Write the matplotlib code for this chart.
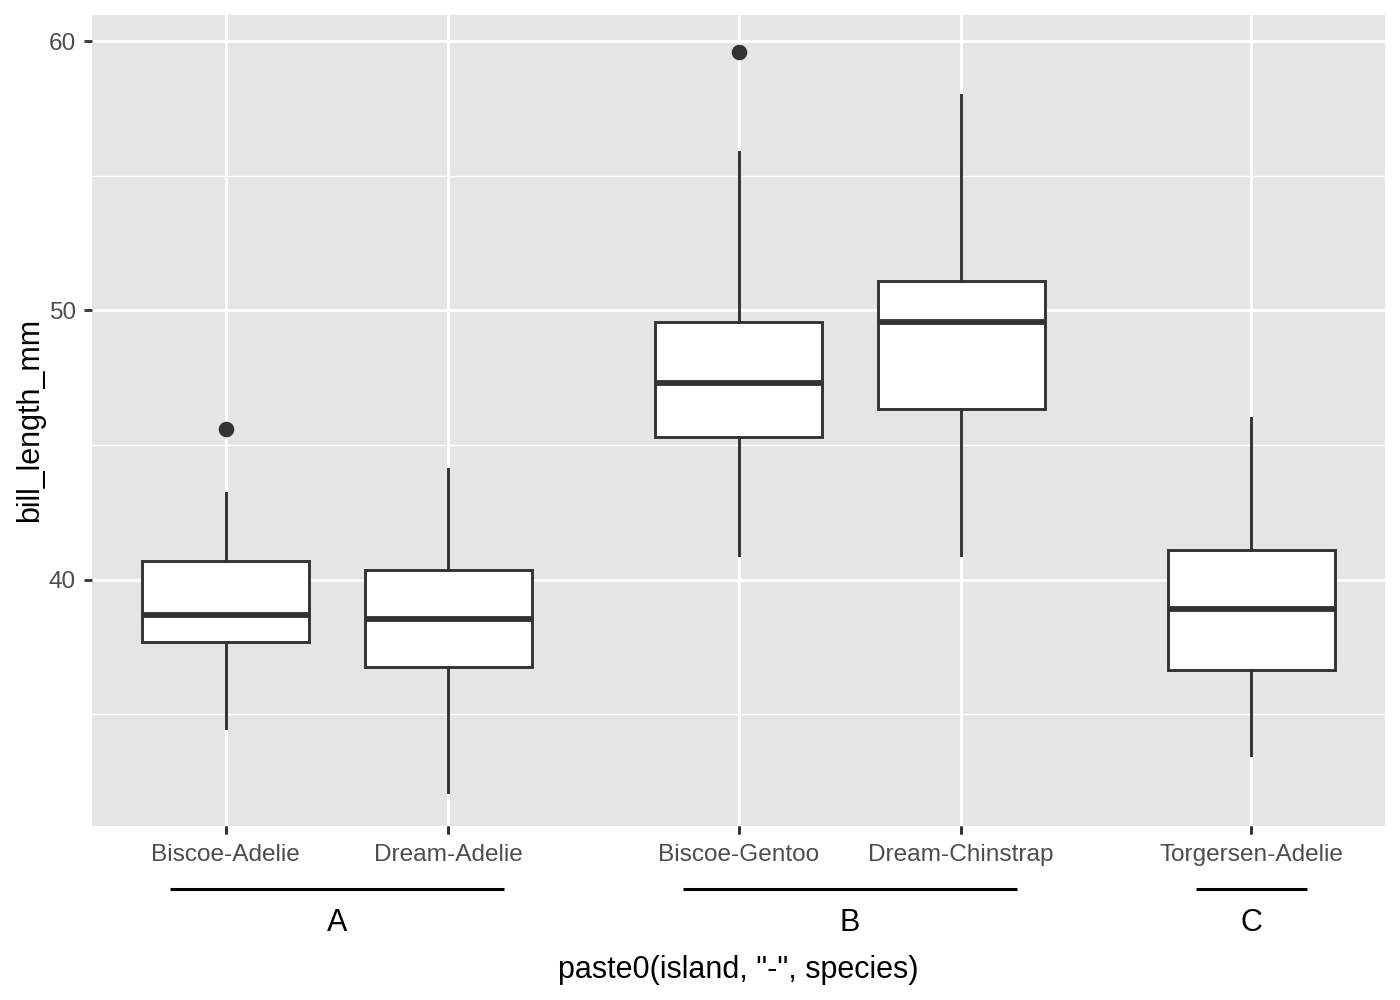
import matplotlib
matplotlib.use("Agg")
import matplotlib.pyplot as plt
import matplotlib.transforms as mtransforms

plt.rcParams["font.family"] = ["Liberation Sans", "DejaVu Sans"]

# ---- data ----
categories = ["Biscoe-Adelie", "Dream-Adelie", "Biscoe-Gentoo",
              "Dream-Chinstrap", "Torgersen-Adelie"]
groups = ["A", "A", "B", "B", "C"]
whislo = [34.5, 32.1, 40.9, 40.9, 33.5]
q1 = [37.7, 36.75, 45.3, 46.35, 36.65]
med = [38.7, 38.55, 47.3, 49.55, 38.9]
q3 = [40.7, 40.375, 49.55, 51.075, 41.1]
whishi = [43.2, 44.1, 55.9, 58.0, 46.0]
fliers = [[45.6], [], [59.6], [], []]

# layout: extra gap between nested groups
group_gap = 0.305
positions = []
x = 0.0
for i, g in enumerate(groups):
    if i > 0:
        x += 1.0 + (group_gap if g != groups[i - 1] else 0.0)
    positions.append(x)

stats = [
    dict(label=c, whislo=a, q1=b, med=m, q3=d, whishi=e, fliers=f)
    for c, a, b, m, d, e, f in zip(categories, whislo, q1, med, q3, whishi, fliers)
]

fig = plt.figure(figsize=(7, 5), dpi=200)
ax = fig.add_axes([92 / 1400, 1 - 826 / 1000, (1385 - 92) / 1400, (826 - 15) / 1000])
ax.set_facecolor("#E5E5E5")
for s in ax.spines.values():
    s.set_visible(False)

# grid
ax.set_yticks([40, 50, 60])
ax.set_yticks([35, 45, 55], minor=True)
ax.set_xticks(positions)
ax.set_xticklabels(categories)
ax.grid(True, which="major", color="white", linewidth=1.0)
ax.grid(True, which="minor", axis="y", color="white", linewidth=0.5)
ax.set_axisbelow(True)

line_col = "#333333"
ax.bxp(
    stats, positions=positions, widths=0.75, patch_artist=True,
    showcaps=False,
    boxprops=dict(facecolor="white", edgecolor=line_col, linewidth=1.05),
    whiskerprops=dict(color=line_col, linewidth=1.05),
    medianprops=dict(color=line_col, linewidth=2.1, solid_capstyle="butt"),
    flierprops=dict(marker="o", markerfacecolor=line_col, markeredgecolor=line_col,
                    markersize=4.6, linestyle="none"),
)

ax.set_xlim(positions[0] - 0.6, positions[-1] + 0.6)
ax.set_ylim(30.85, 60.97)

ax.tick_params(axis="both", which="major", length=2.75, width=1.0, color=line_col,
               labelsize=8.8, labelcolor="#4D4D4D", pad=3)
ax.tick_params(axis="x", which="major", pad=3.8)
ax.tick_params(axis="y", which="minor", length=0)

# nested group lines and labels
trans = mtransforms.blended_transform_factory(ax.transData, fig.transFigure)
for g in dict.fromkeys(groups):
    xs = [p for p, gg in zip(positions, groups) if gg == g]
    ax.plot([xs[0] - 0.25, xs[-1] + 0.25], [1 - 889 / 1000] * 2, transform=trans,
            color="black", linewidth=1.1, clip_on=False, solid_capstyle="butt")
    ax.text((xs[0] + xs[-1]) / 2, 1 - 923 / 1000, g, transform=trans,
            ha="center", va="center", fontsize=11, color="black")

fig.text((92 + 1385) / 2 / 1400, 1 - 970 / 1000, 'paste0(island, "-", species)',
         ha="center", va="center", fontsize=11, color="black")
fig.text(30 / 1400, 1 - 420 / 1000, "bill_length_mm", rotation=90,
         ha="center", va="center", fontsize=11, color="black")

fig.savefig("out.png", dpi=200, facecolor="white")
